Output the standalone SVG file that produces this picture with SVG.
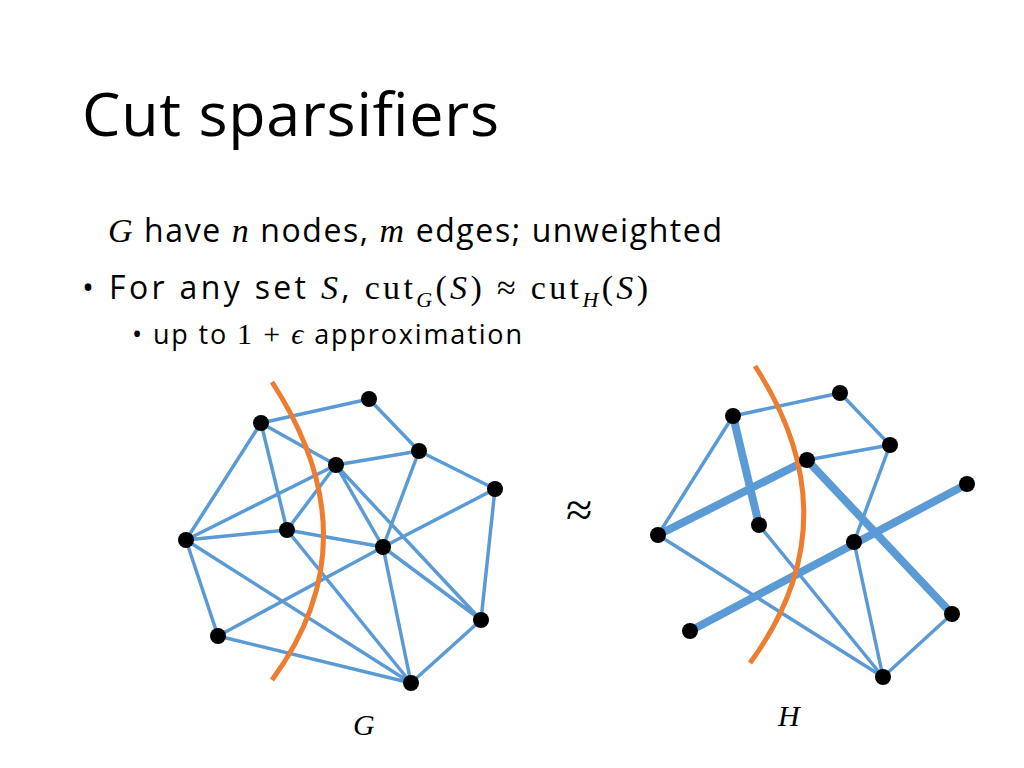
<svg xmlns="http://www.w3.org/2000/svg" width="1024" height="768" viewBox="0 0 1024 768">
<style>
.t{font-family:"Open Sans","Liberation Sans",sans-serif;fill:#000}
.m{font-family:"Liberation Serif",serif;font-style:italic}
.r{font-family:"Liberation Serif",serif}
.e{stroke:#5b9bd5;stroke-width:3.5;fill:none;stroke-linecap:round}
.k{stroke-width:8}
.cut{stroke:#ed7d31;stroke-width:5;fill:none}
circle{fill:#000}
</style>
<rect width="1024" height="768" fill="#fff"/>
<text class="t" x="82" y="136" font-size="61" textLength="417">Cut sparsifiers</text>
<text class="t" x="108" y="242" font-size="32" textLength="614"><tspan class="m" font-size="34">G</tspan> have <tspan class="m" font-size="34">n</tspan> nodes, <tspan class="m" font-size="34">m</tspan> edges; unweighted</text>
<text class="t" x="82" y="299" font-size="32" textLength="566">• For any set <tspan class="m" font-size="34">S</tspan>, <tspan class="r" font-size="34">cut</tspan><tspan class="m" font-size="22" dy="8">G</tspan><tspan class="r" font-size="34" dy="-8">(</tspan><tspan class="m" font-size="34">S</tspan><tspan class="r" font-size="34">) ≈ cut</tspan><tspan class="m" font-size="22" dy="8">H</tspan><tspan class="r" font-size="34" dy="-8">(</tspan><tspan class="m" font-size="34">S</tspan><tspan class="r" font-size="34">)</tspan></text>
<text class="t" x="132" y="344" font-size="27" textLength="390">• up to <tspan class="r" font-size="30">1 + </tspan><tspan class="m" font-size="30">ϵ</tspan> approximation</text>
<text class="r" x="566" y="526" font-size="48">≈</text>
<text class="m" x="353" y="735" font-size="30">G</text>
<text class="m" x="778" y="726" font-size="30">H</text>
<g id="connectors">
<path class="e" d="M261,423L369,399M369,399L419,451M261,423L336,465M261,423L186,540M261,423L287,530M336,465L419,451M336,465L186,540M336,465L287,530M336,465L383,547M336,465L481,620M419,451L383,547M419,451L495,489M495,489L383,547M495,489L481,620M186,540L287,530M186,540L218,636M186,540L411,683M287,530L383,547M287,530L411,683M383,547L218,636M383,547L411,683M383,547L481,620M218,636L411,683M481,620L411,683"/>
<path class="e" d="M733,416L840,393M840,393L890,445M807,460L890,445M733,416L658,535M658,535L883,677M759,525L883,677M890,445L854,542M854,542L883,677M952,614L883,677"/>
<path class="e k" d="M733,416L759,525M658,535L807,460M807,460L952,614M690,631L967,484"/>
</g>
<path class="cut" d="M272,382Q375,540 272,680"/>
<path class="cut" d="M755,366Q855,520 750,663"/>
<g id="nodesG"><circle cx="261" cy="423" r="8"/><circle cx="369" cy="399" r="8"/><circle cx="419" cy="451" r="8"/><circle cx="336" cy="465" r="8"/><circle cx="495" cy="489" r="8"/><circle cx="186" cy="540" r="8"/><circle cx="287" cy="530" r="8"/><circle cx="383" cy="547" r="8"/><circle cx="218" cy="636" r="8"/><circle cx="481" cy="620" r="8"/><circle cx="411" cy="683" r="8"/></g>
<g id="nodesH"><circle cx="733" cy="416" r="8"/><circle cx="840" cy="393" r="8"/><circle cx="890" cy="445" r="8"/><circle cx="807" cy="460" r="8"/><circle cx="967" cy="484" r="8"/><circle cx="658" cy="535" r="8"/><circle cx="759" cy="525" r="8"/><circle cx="854" cy="542" r="8"/><circle cx="690" cy="631" r="8"/><circle cx="952" cy="614" r="8"/><circle cx="883" cy="677" r="8"/></g>
</svg>
